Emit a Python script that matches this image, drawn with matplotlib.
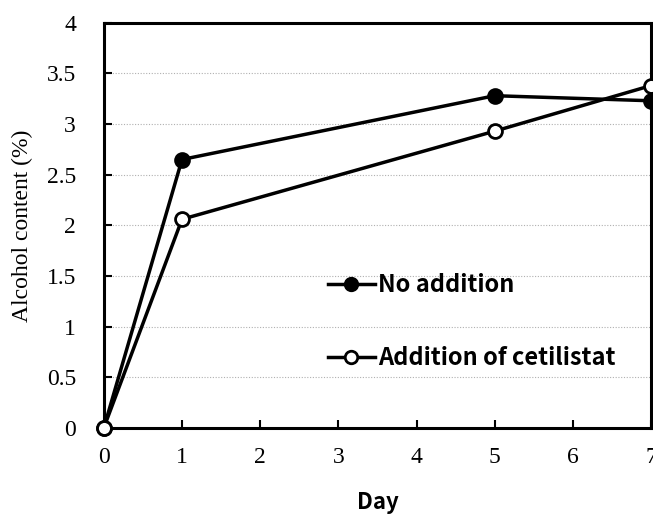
import matplotlib
matplotlib.use("Agg")
import matplotlib.pyplot as plt
from matplotlib.lines import Line2D

days = [0, 1, 5, 7]
no_addition = [0, 2.65, 3.28, 3.23]
cetilistat = [0, 2.06, 2.93, 3.38]
series_labels = ["No addition", "Addition of cetilistat"]
x_ticks = [0, 1, 2, 3, 4, 5, 6, 7]
y_ticks = [0, 0.5, 1, 1.5, 2, 2.5, 3, 3.5, 4]
y_tick_labels = ["0", "0.5", "1", "1.5", "2", "2.5", "3", "3.5", "4"]

fig = plt.figure(figsize=(6.53, 5.18), dpi=100)
ax = fig.add_axes([0.159, 0.174, 0.838, 0.782])

for y in y_ticks[1:-1]:
    ax.axhline(y, color="#b0b0b0", lw=0.8, ls=(0, (1, 1.5)), zorder=0)

ax.plot(days, no_addition, color="black", lw=2.5, marker="o", ms=10,
        mfc="black", mec="black", mew=2, zorder=3, clip_on=False)
ax.plot(days, cetilistat, color="black", lw=2.5, marker="o", ms=10,
        mfc="white", mec="black", mew=2, zorder=3, clip_on=False)

ax.set_xlim(0, 7)
ax.set_ylim(0, 4)
ax.set_xticks(x_ticks)
ax.set_xticklabels([str(t) for t in x_ticks], fontfamily="Liberation Serif", fontsize=17)
ax.set_yticks(y_ticks)
ax.set_yticklabels(y_tick_labels, fontfamily="Liberation Serif", fontsize=17)
ax.tick_params(axis="x", direction="in", length=6, width=1.5, pad=14)
ax.tick_params(axis="y", direction="in", length=6, width=1.5, pad=20)
for s in ax.spines.values():
    s.set_linewidth(2.2)

ax.set_ylabel("Alcohol content (%)", fontfamily="Liberation Serif", fontsize=17, labelpad=10)
ax.set_xlabel("Day", fontfamily="Noto Sans CJK JP", fontsize=16, fontweight="bold", labelpad=16)

handles = [
    Line2D([], [], color="black", lw=2.5, marker="o", ms=9, mfc="black", mec="black", mew=2),
    Line2D([], [], color="black", lw=2.5, marker="o", ms=9, mfc="white", mec="black", mew=2),
]
leg = ax.legend(handles, series_labels, loc="upper left", bbox_to_anchor=(0.37, 0.435),
                frameon=False, handlelength=2.0, handletextpad=0.15, labelspacing=2.1,
                prop={"family": "Noto Sans CJK JP", "size": 17, "weight": "bold"})

fig.savefig("out.png", dpi=100)
